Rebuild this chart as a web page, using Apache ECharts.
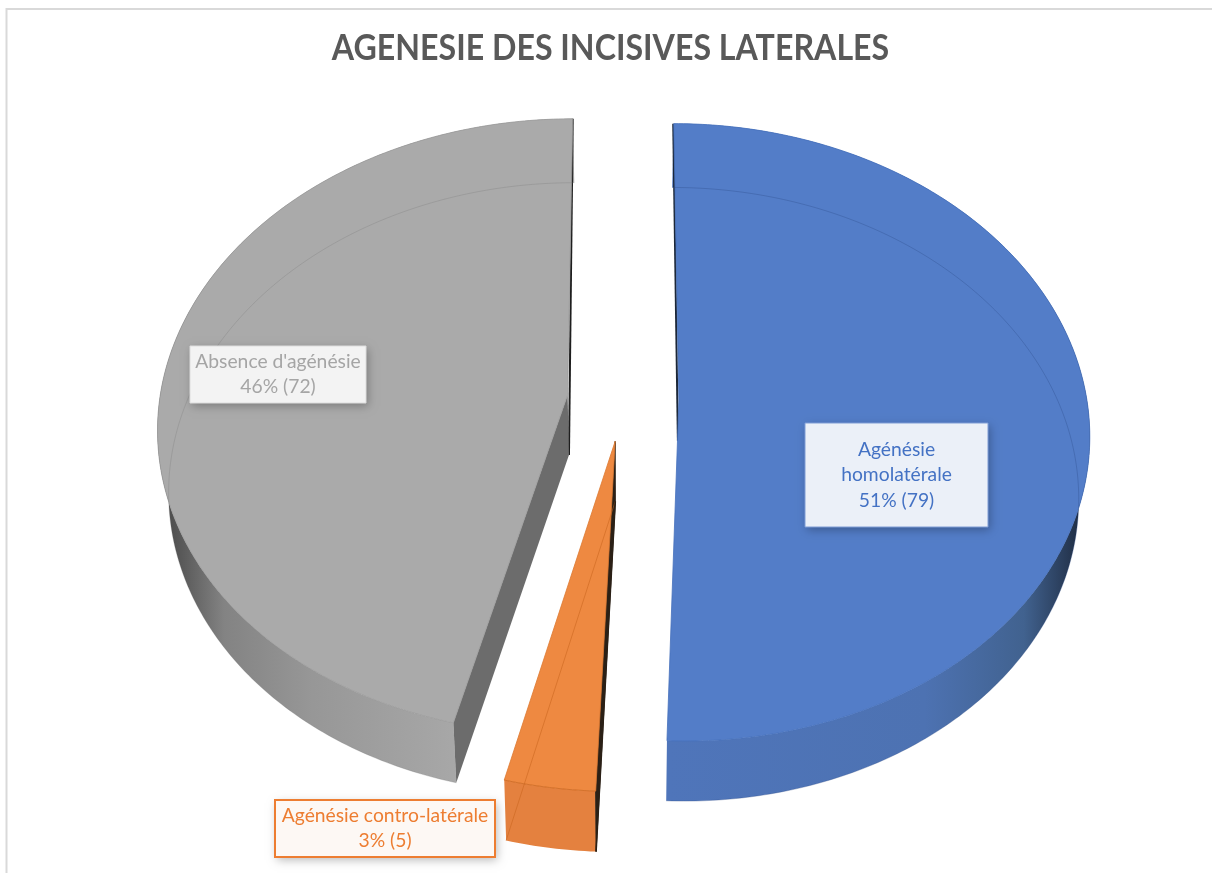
<!DOCTYPE html>
<html><head><meta charset="utf-8">
<style>html,body{margin:0;padding:0;background:#fff}#c{width:1212px;height:873px}</style>
<script src="https://cdn.jsdelivr.net/npm/echarts@6/dist/echarts.min.js"></script>
</head><body><div id="c"></div>
<script>
// ---- data
const chartTitle = 'AGENESIE DES INCISIVES LATERALES';
const categories = ['Agénésie homolatérale', 'Agénésie contro-latérale', "Absence d'agénésie"];
const counts = [79, 5, 72];

// ---- projection of the tilted disc (perspective) and appearance
const FONT = 'Lato, Carlito, "Open Sans", sans-serif';
const centre = {x: 623};
const topPlane = {y: 400, A: 408, B: 305.3, k: 0.102};
const bottomPlane = {y: 460, A: 398, B: 303, k: 0.109};
const explode = [0.137, 0.135, 0.137];
const sliceLook = [
  {top: '#537dc8', edge: '#4570bb', inner: 'rgba(40,70,130,0.3)', end: '#1c2738', front: '#1c2738',
   wall: [[0, '#4f75ba'], [0.62, '#4d72b2'], [0.86, '#41628f'], [1, '#1f2c42']], wx: [668, 1082],
   text: '#4472c4', box: '#ebf0f8', boxEdge: '#7f9dd6', boxW: 1},
  {top: '#ee8941', edge: '#dd7a32', inner: 'rgba(200,100,30,0.55)', end: '#2b2016', front: '#e6833f',
   wall: [[0, '#e4813f'], [1, '#e4813f']], wx: [505, 600],
   text: '#ed7d31', box: '#fdf8f4', boxEdge: '#ed7d31', boxW: 2},
  {top: '#aaaaaa', edge: '#999999', inner: 'rgba(110,110,110,0.25)', end: '#1e1e1e', front: '#6c6c6c',
   wall: [[0, '#4a4a4a'], [0.06, '#5a5a5a'], [0.2, '#838383'], [0.5, '#979797'], [1, '#a8a8a8']], wx: [165, 460],
   text: '#a5a5a5', box: '#f3f3f3', boxEdge: '#dddddd', boxW: 1}
];
const labelBoxes = [
  {x: 805, y: 423, w: 183, h: 104, wrap: true},
  {x: 275, y: 800, w: 220, h: 57, wrap: false},
  {x: 190, y: 346, w: 176, h: 57, wrap: false}
];

const total = counts.reduce((a, b) => a + b, 0);
const chart = echarts.init(document.getElementById('c'), null, {renderer: 'canvas'});

function project(u, v, plane) {
  const w = 1 / (1 - plane.k * v);
  return [centre.x + plane.A * u * w, plane.y + plane.B * v * w];
}
function arcPts(a0, a1, ox, oy, plane) {
  const pts = [], n = Math.max(2, Math.ceil((a1 - a0) / (Math.PI / 240)));
  for (let i = 0; i <= n; i++) {
    const a = a0 + (a1 - a0) * i / n;
    pts.push(project(Math.sin(a) + ox, -Math.cos(a) + oy, plane));
  }
  return pts;
}

function renderSlice(params, api) {
  const i = params.dataIndex;
  const value = api.value(1);
  const before = counts.slice(0, i).reduce((a, b) => a + b, 0);
  const a0 = before / total * Math.PI * 2;
  const a1 = a0 + value / total * Math.PI * 2;
  const mid = (a0 + a1) / 2;
  const ox = Math.sin(mid) * explode[i], oy = -Math.cos(mid) * explode[i];
  const look = sliceLook[i];

  const topArc = arcPts(a0, a1, ox, oy, topPlane);
  const botArc = arcPts(a0, a1, ox, oy, bottomPlane);
  const apexT = project(ox, oy, topPlane);
  const apexB = project(ox, oy, bottomPlane);
  const poly = (points, style) => ({type: 'polygon', shape: {points}, style});
  const line = (points, stroke, lineWidth) => ({type: 'polyline', shape: {points}, style: {stroke, lineWidth, fill: null}});

  const children = [];
  // outer wall
  children.push(poly(topArc.concat(botArc.slice().reverse()), {
    fill: {type: 'linear', x: look.wx[0], y: 0, x2: look.wx[1], y2: 0, global: true, colorStops:
      look.wall.map(s => ({offset: s[0], color: s[1]}))}
  }));
  // the two cut walls
  const startWall = [topArc[0], apexT, apexB, botArc[0]];
  if (i === 0) {
    children.push(line([[topArc[0][0] - 0.5, topArc[0][1]], [apexT[0] - 1, apexT[1] + 40]], look.end, 2));
  } else if (i === 1) {
    children.push(poly(startWall, {fill: look.end, stroke: look.end, lineWidth: 1}));
  } else {
    children.push(line([topArc[topArc.length - 1], apexB], look.end, 2));
    children.push(poly([topArc[0], apexT, apexB, botArc[0]], {fill: look.front}));
  }
  // top face
  children.push(poly([apexT].concat(topArc), {fill: look.top, stroke: look.edge, lineWidth: 0.8}));
  // far edge seen through the face
  children.push(line(i === 1 ? [apexB, botArc[botArc.length - 1]] : botArc, look.inner, 1));
  if (i === 1) {
    children.push(line(topArc, look.inner, 1));
    children.push(line([apexB, botArc[0]], look.end, 1.5));
  }
  // value label
  const b = labelBoxes[i];
  const pct = Math.round(value / total * 100);
  const name = b.wrap ? categories[i].replace(' ', '\n') : categories[i];
  children.push({type: 'rect', z2: 20, shape: {x: b.x, y: b.y, width: b.w, height: b.h},
    style: {fill: look.box, shadowBlur: 9, shadowColor: 'rgba(0,0,0,0.28)', shadowOffsetX: 2, shadowOffsetY: 3}});
  children.push({type: 'rect', z2: 21, shape: {x: b.x, y: b.y, width: b.w, height: b.h},
    style: {fill: 'transparent', stroke: look.boxEdge, lineWidth: look.boxW}});
  children.push({type: 'text', z2: 22, style: {
    text: name + '\n' + pct + '% (' + value + ')',
    x: b.x + b.w / 2, y: b.y + b.h / 2, align: 'center', verticalAlign: 'middle',
    fill: look.text, fontFamily: FONT, fontSize: 19.3, lineHeight: 25.5}});
  return {type: 'group', children};
}

chart.setOption({
  animation: false,
  backgroundColor: '#ffffff',
  graphic: [{
    type: 'polyline', silent: true,
    shape: {points: [[6.5, 900], [6.5, 9], [1300, 9]]},
    style: {stroke: '#d9d9d9', lineWidth: 2, fill: null}
  }, {
    type: 'text', silent: true, x: 610.5, y: 48, scaleX: 0.893,
    style: {text: chartTitle, align: 'center', verticalAlign: 'middle',
      fontFamily: FONT, fontSize: 36, fontWeight: 'bold', fill: '#595959'}
  }],
  series: [{
    type: 'custom', coordinateSystem: 'none', silent: true,
    renderItem: renderSlice,
    data: counts.map((c, i) => ({name: categories[i], value: [i, c]}))
  }]
});
</script></body></html>
